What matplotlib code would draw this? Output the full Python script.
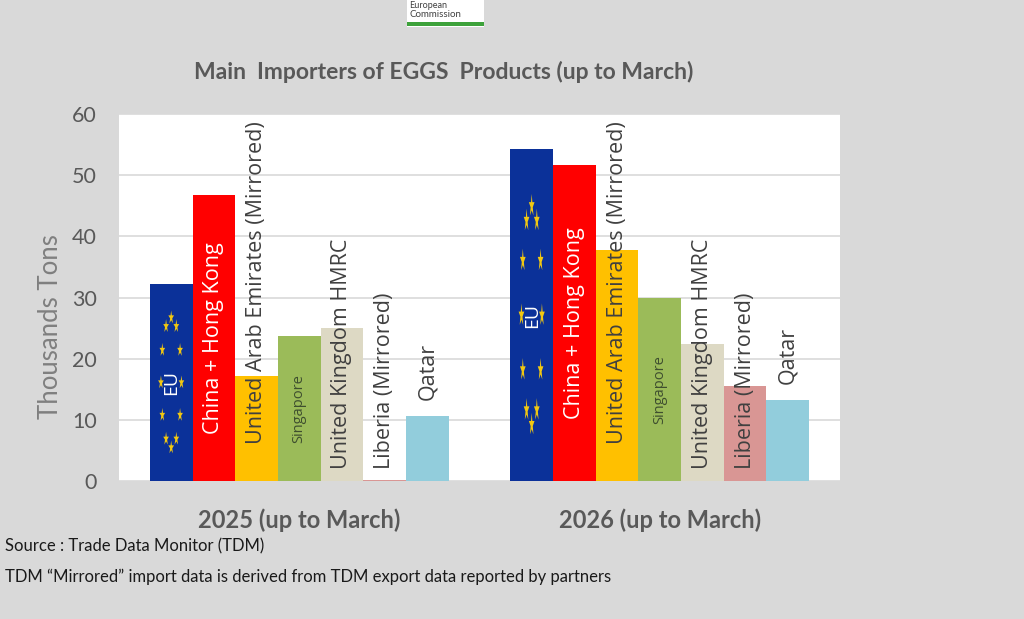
import matplotlib
matplotlib.use("Agg")
import matplotlib.pyplot as plt
import numpy as np
from matplotlib.patches import Polygon, Rectangle

# data (thousand tons)
periods = ["2025 (up to March)", "2026 (up to March)"]
countries = ["EU", "China + Hong Kong", "United Arab Emirates (Mirrored)",
             "Singapore", "United Kingdom HMRC", "Liberia (Mirrored)", "Qatar"]
values_2025 = [32.2, 46.7, 17.2, 23.7, 25.0, 0.2, 10.6]
values_2026 = [54.2, 51.6, 37.8, 30.0, 22.4, 15.5, 13.3]
y_ticks = [0, 10, 20, 30, 40, 50, 60]

colors = ["#0b3199", "#ff0000", "#ffc000", "#9bbb59", "#ddd9c4", "#d99694", "#92cddc"]
label_colors = ["white", "white", "#404040", "#3f4f2f", "#404040", "#404040", "#404040"]
label_sizes = [14, 15.5, 15.5, 10.5, 15.5, 15.5, 15.5]
# how each in-bar label is placed: centre of bar, fixed base offset, or above the bar
label_modes = [("center", 0), ("center", 0), ("base", 6.0), ("center", 0),
               ("base", 2.0), ("base", 2.0), ("above", 2.6)]

BG = "#d9d9d9"
plt.rcParams['font.family'] = ['Lato', 'DejaVu Sans']

fig = plt.figure(figsize=(10.24, 6.19), dpi=100, facecolor=BG)
ax = fig.add_axes([0.1162, 0.2229, 0.7041, 0.5929])
ax.set_facecolor("white")

width = 0.1184
n = len(countries)
offsets = (np.arange(n) - (n - 1) / 2) * width
x = np.arange(len(periods))
series = np.array([values_2025, values_2026])


def draw_star(ax, cx, cy, sx, sy, color):
    ang = np.pi / 2 + np.arange(10) * np.pi / 5
    rad = np.where(np.arange(10) % 2 == 0, 1.0, 0.38)
    pts = np.column_stack([cx + sx * rad * np.cos(ang), cy + sy * rad * np.sin(ang)])
    ax.add_patch(Polygon(pts, closed=True, facecolor=color, edgecolor="none", zorder=3))


for i, name in enumerate(countries):
    vals = series[:, i]
    bars = ax.bar(x + offsets[i], vals, width, color=colors[i], zorder=2)
    for b, v in zip(bars, vals):
        cx = b.get_x() + b.get_width() / 2
        mode, off = label_modes[i]
        if mode == "center":
            ty, va = v / 2, "center"
        elif mode == "base":
            ty, va = off, "bottom"
        else:
            ty, va = v + off, "bottom"
        ax.text(cx, ty, name, rotation=90, ha="center", va=va,
                fontsize=label_sizes[i], color=label_colors[i], zorder=4,
                family=["Open Sans", "DejaVu Sans"])
        if name == "EU":
            # EU flag ring of stars, stretched with the bar
            cy = v / 2
            R = 0.33 * v
            r = 0.24 * width
            for a in np.arange(12) * np.pi / 6:
                draw_star(ax, cx + r * np.cos(a), cy + R * np.sin(a),
                          0.07 * width, 0.036 * v, "#f2c811")

ax.set_xlim(-0.5, 1.5)
ax.set_ylim(0, 60)
ax.set_yticks(y_ticks)
ax.grid(axis="y", color="#d9d9d9", linewidth=1.2, zorder=0)
ax.set_axisbelow(True)
for s in ax.spines.values():
    s.set_visible(False)
ax.tick_params(axis="y", length=0, pad=16, labelsize=15.5, labelcolor="#595959")
ax.set_xticks(x)
ax.set_xticklabels(periods, fontsize=17, fontweight="bold", color="#595959")
ax.tick_params(axis="x", length=0, pad=20)

ax.set_ylabel("Thousands Tons", fontsize=18.5, color="#7f7f7f")
ax.yaxis.set_label_coords(-0.078, 0.42)

fig.text(0.433, 0.884, "Main  Importers of EGGS  Products (up to March)",
         ha="center", va="center", fontsize=16.5, fontweight="bold", color="#595959")

fig.text(0.005, 0.118, "Source : Trade Data Monitor (TDM)", ha="left", va="center",
         fontsize=12, color="#1a1a1a")
fig.text(0.005, 0.068, "TDM \u201cMirrored\u201d import data is derived from TDM export data reported by partners",
         ha="left", va="center", fontsize=12, color="#1a1a1a")

# European Commission logo strip at the top
fig.patches.append(Rectangle((0.397, 0.956), 0.076, 0.044, transform=fig.transFigure,
                             facecolor="white", edgecolor="none"))
fig.patches.append(Rectangle((0.397, 0.958), 0.076, 0.006, transform=fig.transFigure,
                             facecolor="#3da23b", edgecolor="none"))
fig.text(0.400, 0.999, "European", ha="left", va="top", fontsize=6.5, color="#404040")
fig.text(0.400, 0.977, "Commission", ha="left", va="center", fontsize=7, color="#404040")

fig.savefig("out.png", dpi=100, facecolor=BG)
